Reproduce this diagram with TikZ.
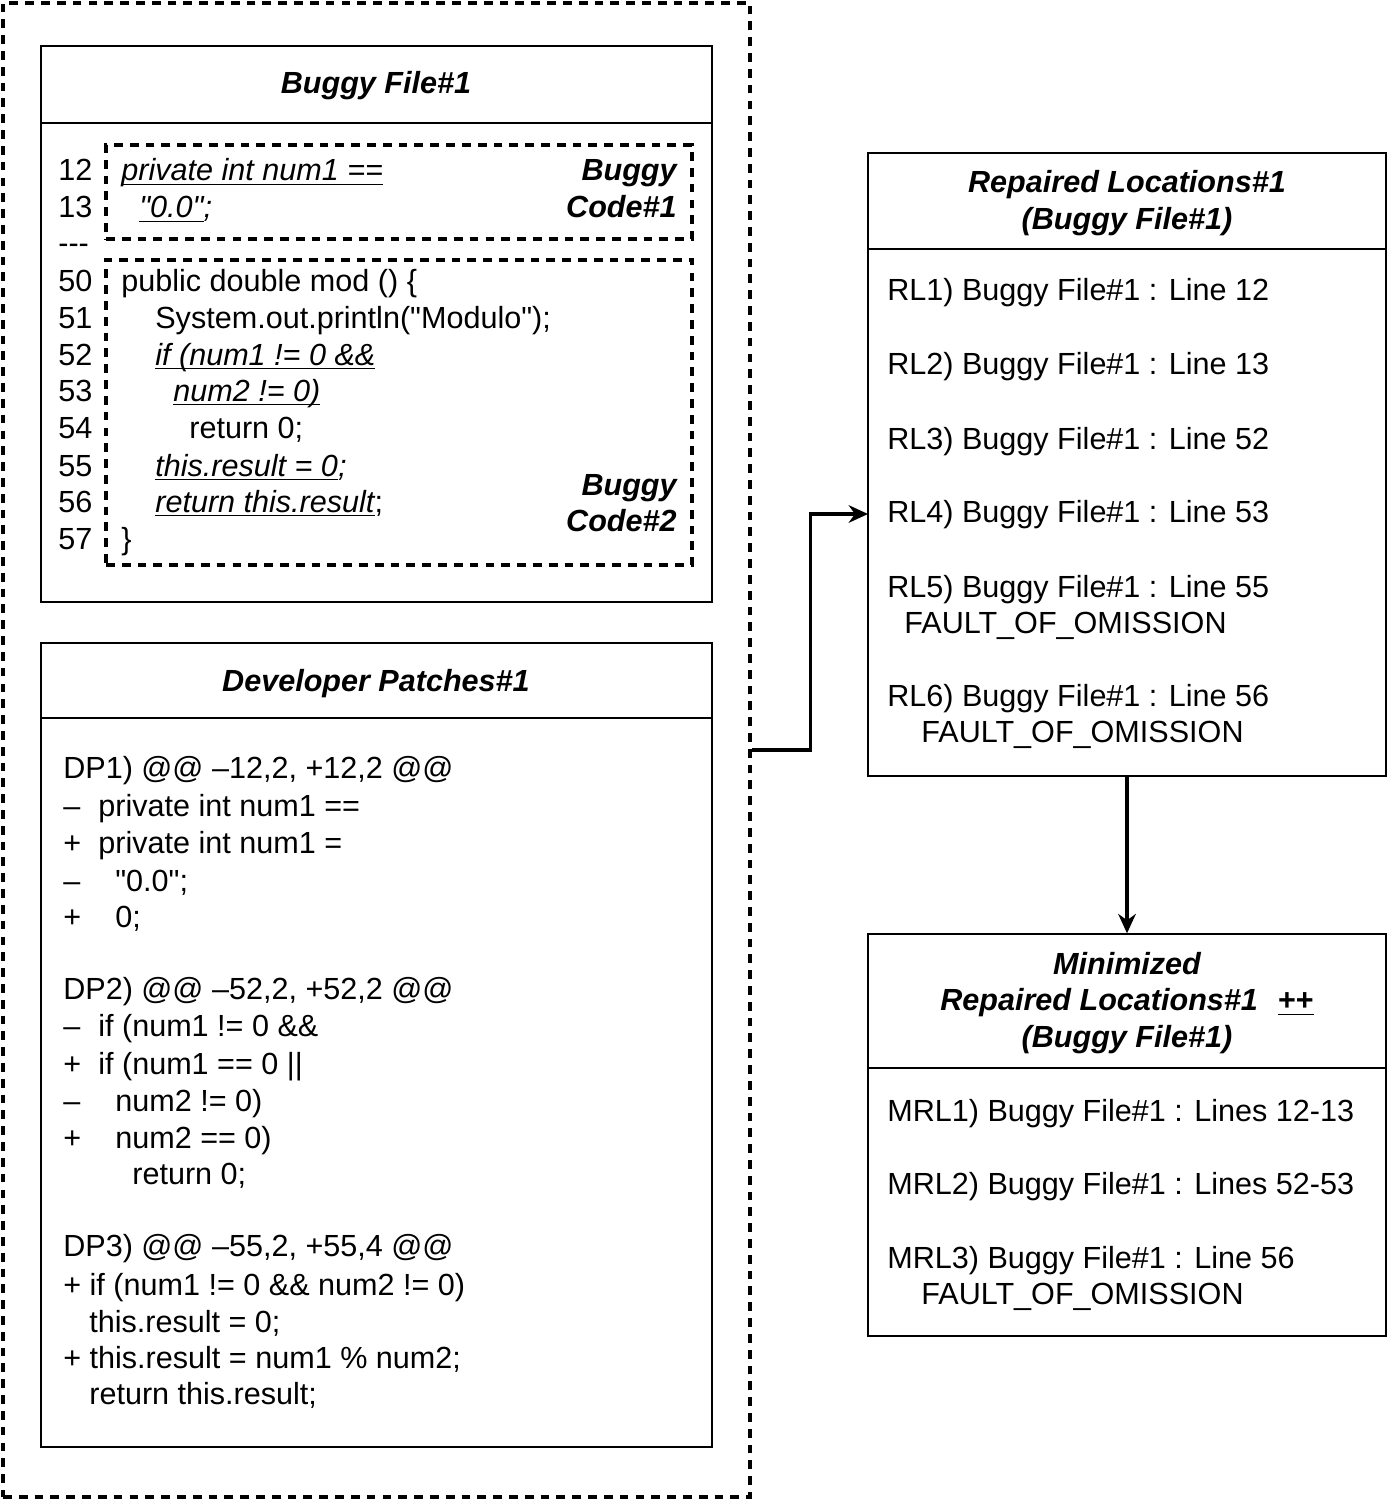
\documentclass[tikz,border=0pt]{standalone}
\usepackage{fontspec}
\setmainfont{Liberation Sans}[Ligatures=TeXOff]
\usetikzlibrary{arrows.meta,positioning,fit}

\newsavebox{\ulbox}
\newcommand{\uln}[1]{\sbox{\ulbox}{#1}\rlap{\rule[-2.2pt]{\wd\ulbox}{0.7pt}}\usebox{\ulbox}}

\begin{document}
\begin{tikzpicture}[
			x=0.02cm, y=-0.02cm,
			font=\fontsize{17.4}{20.8}\selectfont,
			>=Stealth,
			panel/.style={draw, line width=0.8pt, inner sep=0pt},
			hunk/.style={draw, line width=2pt, dash pattern=on 5pt off 4pt, inner sep=0pt},
			ln/.style={anchor=base west, inner sep=0pt},
			ttl/.style={align=center, inner sep=0pt, font=\fontsize{17.4}{20.8}\selectfont\bfseries\itshape},
			flow/.style={line width=1.9pt, arrows={-Stealth[length=11pt, width=10pt]}}
			]
			\useasboundingbox (0,0) rectangle (1387,1500);
			
			% left column: buggy file and developer patches
			\node[hunk, fit={(3,3) (750,1497)}] (outer) {};
			\node[panel, fit={(41,46) (712,602)}] (buggy) {};
			\draw[line width=0.8pt] (buggy.west |- 0,123) -- (buggy.east |- 0,123);
			\node[ttl, anchor=base] (buggyT) at (376,94) {Buggy File\#1};
			
			\node[hunk, fit={(106,145) (692,239)}] (code1) {};
			\node[hunk, fit={(106,260) (692,565)}] (code2) {};
			\node[ttl, anchor=base east] (code1a) at (677,181) {Buggy};
			\node[ttl, anchor=base east] (code1b) at (677,218) {Code\#1};
			\node[ttl, anchor=base east] (code2a) at (677,495) {Buggy};
			\node[ttl, anchor=base east] (code2b) at (677,531) {Code\#2};
			
			\foreach \y/\n [count=\i] in {181/12, 218/13, 254/---, 292/50, 329/51, 365/52, 401/53, 438/54, 476/55, 512/56, 549/57}
				\node[ln] (num\i) at (58,\y) {\n};
			
			\node[ln] (c12) at (121,181) {\textit{\uln{private int num1 ==}}};
			\node[ln] (c13) at (139,218) {\textit{\uln{"0.0"};}};
			\node[ln] (c50) at (121,292) {public double mod () \{};
			\node[ln] (c51) at (155,329) {System.out.println("Modulo");};
			\node[ln] (c52) at (155,365) {\textit{\uln{if (num1 != 0 \&\&}}};
			\node[ln] (c53) at (173,401) {\textit{\uln{num2 != 0)}}};
			\node[ln] (c54) at (189,438) {return 0;};
			\node[ln] (c55) at (155,476) {\textit{\uln{this.result = 0};}};
			\node[ln] (c56) at (155,512) {\textit{\uln{return this.result}};};
			\node[ln] (c57) at (121,549) {\}};
			
			\node[panel, fit={(41,643) (712,1447)}] (dev) {};
			\draw[line width=0.8pt] (dev.west |- 0,718) -- (dev.east |- 0,718);
			\node[ttl, anchor=base] (devT) at (376,691) {Developer Patches\#1};
			
			\foreach \y/\s [count=\i] in {816/–, 853/+, 891/–, 927/+, 1036/–, 1074/+, 1111/–, 1148/+}
				\node[ln] (sgn\i) at (63,\y) {\s};
			\foreach \y/\x/\t [count=\i] in {
				778/63/{DP1) @@ –12,2, +12,2 @@},
				816/98/{private int num1 ==},
				853/98/{private int num1 =},
				891/115/{"0.0";},
				927/115/{0;},
				999/63/{DP2) @@ –52,2, +52,2 @@},
				1036/98/{if (num1 != 0 \&\&},
				1074/98/{if (num1 == 0 ||},
				1111/115/{num2 != 0)},
				1148/115/{num2 == 0)},
				1184/132/{return 0;},
				1256/63/{DP3) @@ –55,2, +55,4 @@},
				1295/63/{+ if (num1 != 0 \&\& num2 != 0)},
				1332/89/{this.result = 0;},
				1368/63/{+ this.result = num1 \% num2;},
				1404/89/{return this.result;}}
				\node[ln] (dp\i) at (\x,\y) {\t};
			
			% right column: repaired locations
			\node[panel, fit={(868,153) (1386,776)}] (repaired) {};
			\draw[line width=0.8pt] (repaired.west |- 0,249) -- (repaired.east |- 0,249);
			\node[ttl] (repT) at (1127,203) {Repaired Locations\#1\\(Buggy File\#1)};
			\foreach \y/\x/\t [count=\i] in {
				301/887/{RL1) Buggy File\#1 : Line 12},
				374/887/{RL2) Buggy File\#1 : Line 13},
				449/887/{RL3) Buggy File\#1 : Line 52},
				522/887/{RL4) Buggy File\#1 : Line 53},
				597/887/{RL5) Buggy File\#1 : Line 55},
				633/904/{FAULT\_OF\_OMISSION},
				706/887/{RL6) Buggy File\#1 : Line 56},
				742/921/{FAULT\_OF\_OMISSION}}
				\node[ln] (rl\i) at (\x,\y) {\t};
			
			\node[panel, fit={(868,934) (1386,1336)}] (minimized) {};
			\draw[line width=0.8pt] (minimized.west |- 0,1068) -- (minimized.east |- 0,1068);
			\node[ttl] (minT) at (1127,1003) {Minimized\\Repaired Locations\#1\hspace{0.4cm}{\upshape\uln{++}}\\(Buggy File\#1)};
			\foreach \y/\x/\t [count=\i] in {
				1121/887/{MRL1) Buggy File\#1 : Lines 12-13},
				1194/887/{MRL2) Buggy File\#1 : Lines 52-53},
				1268/887/{MRL3) Buggy File\#1 : Line 56},
				1304/921/{FAULT\_OF\_OMISSION}}
				\node[ln] (mrl\i) at (\x,\y) {\t};
			
			\coordinate (rlIn) at (868,514);
			\draw[flow] (outer.east) -- ++(59,0) |- (rlIn);
			\draw[flow] (repaired) -- (minimized);
		\end{tikzpicture}
\end{document}
